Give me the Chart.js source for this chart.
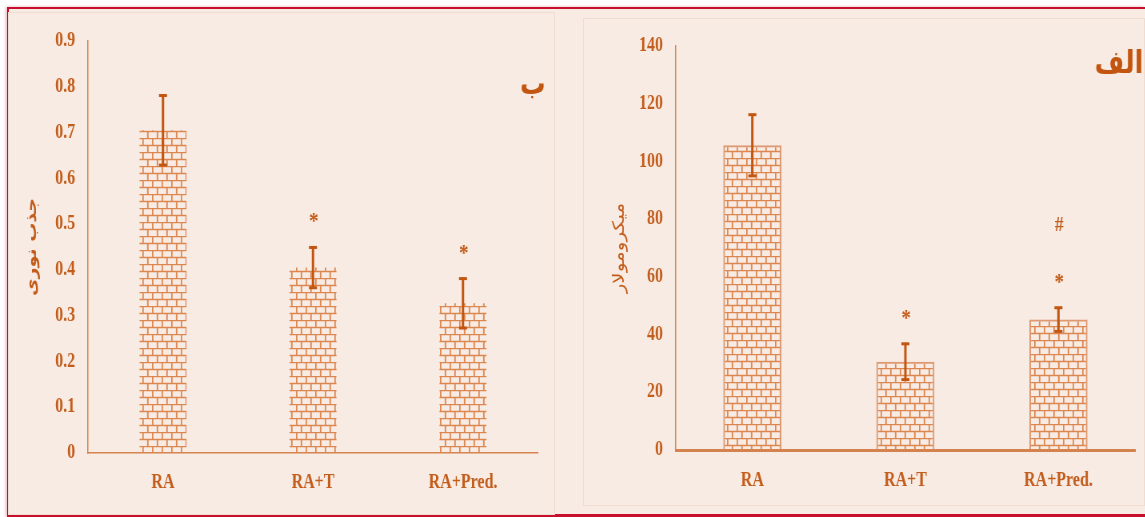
<!DOCTYPE html>
<html>
<head>
<meta charset="utf-8">
<script src="https://cdn.jsdelivr.net/npm/chart.js@4.4.1/dist/chart.umd.min.js"></script>
<style>
  html, body { margin: 0; padding: 0; background: #ffffff; }
  body { width: 1145px; height: 517px; position: relative; overflow: hidden; }
  #frame {
    position: absolute; left: 7px; top: 7px; width: 1138px; height: 510px;
    box-sizing: border-box; background: #f8ebe3;
    border-left: 2px solid #c8102e; border-top: 2px solid #c8102e; border-bottom: 3px solid #c8102e;
    box-shadow: -1px 0 3px rgba(190, 20, 40, 0.35);
  }
  .panel { position: absolute; box-sizing: border-box; border: 1px solid #f0ddd1; }
  .wrap { position: absolute; }
  .wrap canvas { transform-origin: 0 0; transform: scaleX(0.8); display: block; }
  #chartA { filter: blur(0.3px); }
</style>
</head>
<body>
<div id="frame"></div>
<div class="panel" style="left:8px; top:12px; width:547px; height:503px;"></div>
<div class="panel" style="left:583px; top:18px; width:562px; height:488px;"></div>
<div class="wrap" style="left:8px; top:12px;"><canvas id="chartB" width="684" height="498"></canvas></div>
<div class="wrap" style="left:583px; top:18px;"><canvas id="chartA" width="703" height="487"></canvas></div>

<script>
// Groups shared by both panels
const groups = ['RA', 'RA+T', 'RA+Pred.'];

// Panel "ب": optical absorbance (mean and error)
const absorbanceMean = [0.705, 0.405, 0.327];
const absorbanceErr  = [0.076, 0.044, 0.054];
const absorbanceSig  = [[], ['*'], ['*']];
const absorbanceTicks = ['0', '0.1', '0.2', '0.3', '0.4', '0.5', '0.6', '0.7', '0.8', '0.9'];

// Panel "الف": concentration in micromolar (mean and error)
const concMean = [105.6, 30.6, 45.2];
const concErr  = [10.6, 6.2, 4.1];
const concSig  = [[], ['*'], ['*', '#']];
const concTicks = ['0', '20', '40', '60', '80', '100', '120', '140'];

const TEXT = '#c25d1c';
const DARK = '#c2550f';
const BRICK = '#dc8650';
const AXIS = '#d5834e';

// Horizontal brick fill used for every bar
function brickPattern(w, h, lw) {
  const c = document.createElement('canvas');
  c.width = w; c.height = h * 2;
  const g = c.getContext('2d');
  g.strokeStyle = BRICK;
  g.lineWidth = lw;
  g.beginPath();
  g.moveTo(0, 0.5); g.lineTo(w, 0.5);
  g.moveTo(0, h + 0.5); g.lineTo(w, h + 0.5);
  g.stroke();
  g.lineWidth = lw * 1.3;
  g.beginPath();
  g.moveTo(0.8, 0); g.lineTo(0.8, h);
  g.moveTo(w / 2 + 0.8, h); g.lineTo(w / 2 + 0.8, 2 * h);
  g.stroke();
  return g.createPattern(c, 'repeat');
}

// Error bars, significance symbols and panel letter
const decorations = {
  id: 'decorations',
  afterDatasetsDraw(chart, args, o) {
    const { ctx, scales: { y } } = chart;
    const meta = chart.getDatasetMeta(0);
    const values = chart.data.datasets[0].data;
    ctx.save();
    ctx.strokeStyle = DARK;
    ctx.lineCap = 'butt';
    values.forEach((v, i) => {
      const cx = meta.data[i].x;
      const yt = y.getPixelForValue(v + o.errors[i]);
      const yb = y.getPixelForValue(v - o.errors[i]);
      ctx.lineWidth = 3;
      ctx.beginPath(); ctx.moveTo(cx, yt); ctx.lineTo(cx, yb); ctx.stroke();
      ctx.lineWidth = 3;
      [yt, yb].forEach(yy => {
        ctx.beginPath(); ctx.moveTo(cx - 5, yy); ctx.lineTo(cx + 5, yy); ctx.stroke();
      });
      ctx.fillStyle = TEXT;
      ctx.textAlign = 'center';
      ctx.textBaseline = 'alphabetic';
      o.signs[i].forEach((s, k) => {
        const cy = yt - 32 - k * 53;
        ctx.font = s === '#' ? 'bold 22px "Liberation Serif"' : 'bold 24px "Liberation Serif"';
        ctx.fillText(s, cx + 1, cy + (s === '#' ? 8 : 13));
      });
    });
    ctx.fillStyle = DARK;
    ctx.font = 'bold 32px "DejaVu Sans"';
    ctx.textAlign = 'center';
    ctx.textBaseline = 'middle';
    ctx.fillText(o.letter, o.letterX, o.letterY);
    ctx.restore();
  }
};

function makeChart(id, cfg) {
  return new Chart(document.getElementById(id), {
    type: 'bar',
    data: {
      labels: groups,
      datasets: [{
        data: cfg.values,
        backgroundColor: brickPattern(12, 7, 1.4),
        borderColor: cfg.barBorder,
        borderWidth: cfg.barBorderWidth,
        borderSkipped: 'bottom',
        barPercentage: cfg.barPct,
        categoryPercentage: 1
      }]
    },
    options: {
      responsive: false,
      animation: false,
      devicePixelRatio: 1,
      layout: { padding: { top: cfg.padTop, right: cfg.padRight, bottom: 0, left: 0 } },
      plugins: {
        legend: { display: false },
        tooltip: { enabled: false },
        decorations: { errors: cfg.errors, signs: cfg.signs, letter: cfg.letter, letterX: cfg.letterX, letterY: cfg.letterY }
      },
      scales: {
        x: {
          grid: { display: false, drawTicks: false },
          border: { display: true, color: AXIS, width: cfg.xBorder },
          ticks: { color: TEXT, padding: cfg.xTickPad, font: { family: 'Liberation Serif', weight: 'bold', size: 20 } },
          afterFit: s => { s.height = cfg.xHeight; }
        },
        y: {
          min: 0, max: cfg.max,
          grid: { display: false, drawTicks: false },
          border: { display: true, color: AXIS, width: 1.5 },
          ticks: {
            stepSize: cfg.step, color: TEXT, padding: 16,
            font: { family: 'Liberation Serif', weight: 'bold', size: 20 },
            callback: (v, i) => cfg.tickLabels[i]
          },
          title: {
            display: true, text: cfg.title, color: TEXT,
            padding: { top: cfg.titlePad, bottom: 0 },
            font: { family: 'DejaVu Sans', weight: cfg.titleWeight, size: cfg.titleSize }
          },
          afterFit: s => { s.width = cfg.yWidth; }
        }
      }
    },
    plugins: [decorations]
  });
}

makeChart('chartB', {
  values: absorbanceMean, errors: absorbanceErr, signs: absorbanceSig,
  tickLabels: absorbanceTicks, max: 0.9, step: 0.1,
  title: 'جذب نوری', titleWeight: 'bold', titleSize: 19, titlePad: 19,
  letter: 'ب', letterX: 656, letterY: 74,
  barPct: 0.313, barBorder: 'rgba(0,0,0,0)', barBorderWidth: 0,
  padTop: 29, padRight: 21.5, yWidth: 100, xHeight: 57, xTickPad: 18, xBorder: 1.5
});

makeChart('chartA', {
  values: concMean, errors: concErr, signs: concSig,
  tickLabels: concTicks, max: 140, step: 20,
  title: 'میکرومولار', titleWeight: 'normal', titleSize: 20, titlePad: 34,
  letter: 'الف', letterX: 670, letterY: 47,
  barPct: 0.38, barBorder: 'rgba(214,128,78,0.75)', barBorderWidth: 2,
  padTop: 23, padRight: 13, yWidth: 116, xHeight: 55, xTickPad: 19, xBorder: 3
});
</script>
</body>
</html>
